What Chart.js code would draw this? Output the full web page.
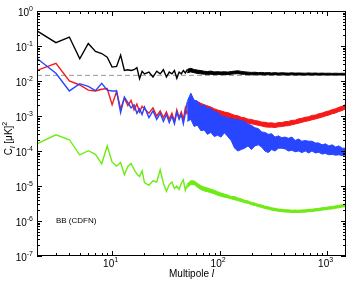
<!DOCTYPE html>
<html>
<head>
<meta charset="utf-8">
<script src="https://cdn.jsdelivr.net/npm/chart.js@4"></script>
<style>
  body { margin: 0; background: #fff; }
</style>
</head>
<body>
<canvas id="cl" width="350" height="284"></canvas>
<script>
// low multipoles, drawn as single noisy lines
let ell = [2,3,4,5,6,7,8,9,10,11,12,13,14,15,16,17,18,19,20,
  22,24,26,28,30,32,34,36,38,40,42,44,46,48,50];

let clBlack = [0.27,0.125,0.18,0.043,0.118,0.07,0.061,0.048,0.025,0.026,0.055,0.02,0.021,0.02,0.021,0.024,0.0116,0.019,0.016,
  0.018,0.013,0.019,0.016,0.021,0.013,0.018,0.016,0.02,0.012,0.018,0.016,0.02,0.017,0.021];
let clRed = [0.02,0.032,0.010,0.0077,0.0055,0.0052,0.0058,0.0061,0.0021,0.005,0.0016,0.0032,0.002,0.0028,0.0015,0.0022,0.0013,0.0019,0.0016,
  0.0012,0.0017,0.001,0.0014,0.0009,0.0013,0.0008,0.0012,0.0007,0.0015,0.0009,0.0013,0.0008,0.0017,0.0011];
let clBlue = [0.044,0.0166,0.0052,0.0084,0.007,0.0053,0.0086,0.0055,0.0052,0.0052,0.00125,0.0035,0.0024,0.0017,0.0021,0.0012,0.0016,0.0011,0.0018,
  0.0009,0.0014,0.0008,0.0012,0.0007,0.0011,0.00065,0.001,0.0006,0.0013,0.0008,0.0011,0.0006,0.0012,0.0025];
let clGreen = [1.6e-4,2.9e-4,2.1e-4,7.7e-5,1.02e-4,8e-5,4.3e-5,1.39e-4,4.8e-5,3.7e-5,4.7e-5,2.1e-5,3.6e-5,4.4e-5,3.0e-5,2.2e-5,1.85e-5,2.7e-5,1.25e-5,
  1.05e-5,1.4e-5,1.3e-5,2.9e-5,1.2e-5,7e-6,1.1e-5,1.3e-5,8.5e-6,1.0e-5,8e-6,1.2e-5,1.5e-5,7.5e-6,1.1e-5];

// high multipoles: the scatter is so dense it reads as a band (upper / lower edge)
let ellBand = [50,54,58,62,67,72,77,83,89,96,103,111,119,128,138,148,159,171,184,198,213,229,246,264,284,
  305,328,353,379,407,437,470,505,543,583,627,674,724,778,836,899,966,1038,1116,1199,1289,1385,1500];

let blackHi = [0.0215,0.023,0.0212,0.0205,0.0198,0.019,0.0186,0.0192,0.0182,0.0185,0.0181,0.0184,0.018,0.0186,0.0192,
  0.0196,0.0188,0.0183,0.0179,0.0176,0.0178,0.0173,0.0176,0.0171,0.0174,0.017,0.0173,0.0169,0.0172,0.017,
  0.0168,0.0171,0.0168,0.017,0.0168,0.0167,0.017,0.0167,0.0169,0.0166,0.0168,0.0166,0.0167,0.0165,0.0167,0.0165,0.0166,0.0165];
let blackLo = [0.0172,0.0182,0.0172,0.0165,0.016,0.0157,0.0154,0.0156,0.0152,0.0155,0.0151,0.0154,0.0152,0.0156,0.016,
  0.0162,0.0157,0.0155,0.0152,0.015,0.0153,0.015,0.0152,0.0149,0.0151,0.0149,0.0151,0.0148,0.015,0.0149,
  0.0148,0.015,0.0148,0.0149,0.0148,0.0148,0.0149,0.0148,0.0149,0.0148,0.0149,0.0148,0.0149,0.0148,0.0149,0.0148,0.0149,0.0149];

let redHi = [0.0023,0.0031,0.0028,0.0026,0.0023,0.0021,0.00196,0.0018,0.00162,0.00148,0.0014,0.0013,0.00125,0.00115,0.00105,
  0.00101,0.00092,0.00089,0.00081,0.0008,0.00074,0.00072,0.00067,0.00066,0.00063,0.00064,0.00061,0.00065,0.00065,0.00069,
  0.0007,0.00075,0.00076,0.00083,0.00086,0.00092,0.00095,0.00104,0.00106,0.00116,0.00121,0.00132,0.0014,0.00152,0.00161,0.00177,0.0019,0.00215];
let redLo = [0.00126,0.0017,0.00155,0.0014,0.00126,0.00118,0.00107,0.001,0.00089,0.00081,0.00076,0.00071,0.00069,0.00068,0.00068,
  0.00071,0.00069,0.00066,0.00062,0.0006,0.00057,0.00054,0.00052,0.00049,0.00048,0.00048,0.00047,0.00049,0.0005,0.00052,
  0.00053,0.00056,0.00059,0.00062,0.00066,0.0007,0.00073,0.00078,0.00082,0.00087,0.00093,0.001,0.00106,0.00116,0.00122,0.00135,0.00143,0.00165];

let blueHi = [0.0026,0.0045,0.0028,0.0027,0.0019,0.0021,0.0016,0.0017,0.0013,0.0013,0.00098,0.001,0.00085,0.00088,0.00078,
  0.0008,0.00072,0.00071,0.00058,0.00054,0.00046,0.00044,0.00035,0.00034,0.0003,0.00031,0.00025,0.00027,0.00024,0.00025,
  0.00023,0.00025,0.0002,0.00022,0.00019,0.0002,0.00019,0.00019,0.00017,0.00017,0.00015,0.00016,0.00014,0.00015,0.00013,0.00014,0.00012,0.00012];
let blueLo = [0.0007,0.0008,0.0005,0.00055,0.00038,0.0004,0.0003,0.00034,0.00026,0.00028,0.00025,0.00033,0.00026,0.0002,0.00012,
  0.0001,0.00011,0.00012,0.00014,0.00011,0.00014,0.00015,0.00013,0.0001,0.00009,0.00011,0.0001,0.00012,0.00012,0.000115,
  0.0001,0.000105,0.000095,0.0001,0.00009,0.0001,0.000088,0.0001,0.000088,0.000092,0.000082,0.000085,0.000078,0.00008,0.000076,0.000078,0.000074,0.000078];

let greenHi = [1.15e-5,1.42e-5,1.4e-5,1.2e-5,1.02e-5,9.3e-6,8.8e-6,8.1e-6,7.6e-6,6.9e-6,6.3e-6,5.9e-6,5.5e-6,5.0e-6,5e-6,
  4.55e-6,4.3e-6,3.9e-6,3.75e-6,3.4e-6,3.25e-6,3e-6,2.86e-6,2.65e-6,2.54e-6,2.38e-6,2.3e-6,2.2e-6,2.16e-6,2.1e-6,
  2.08e-6,2.04e-6,2.05e-6,2.03e-6,2.07e-6,2.08e-6,2.15e-6,2.17e-6,2.25e-6,2.3e-6,2.4e-6,2.44e-6,2.54e-6,2.59e-6,2.71e-6,2.79e-6,2.92e-6,3.0e-6];
let greenLo = [8.8e-6,1.1e-5,1.1e-5,9.2e-6,7.9e-6,7.2e-6,6.9e-6,6.4e-6,6e-6,5.4e-6,5.1e-6,4.75e-6,4.6e-6,4.3e-6,4.05e-6,
  3.8e-6,3.6e-6,3.3e-6,3.2e-6,2.9e-6,2.78e-6,2.57e-6,2.45e-6,2.27e-6,2.17e-6,2.04e-6,1.97e-6,1.89e-6,1.85e-6,1.8e-6,
  1.79e-6,1.75e-6,1.76e-6,1.74e-6,1.78e-6,1.79e-6,1.84e-6,1.86e-6,1.93e-6,1.97e-6,2.05e-6,2.09e-6,2.18e-6,2.22e-6,2.32e-6,2.39e-6,2.5e-6,2.57e-6];

let noiseLevel = 0.0145;
let xTicks = [10, 100, 1000];
let yTicks = [1e-7, 1e-6, 1e-5, 1e-4, 1e-3, 1e-2, 1e-1, 1];
let lMin = 2, lMax = 1500;

function pts(xs, vals) {
  return xs.map((l, i) => ({ x: l, y: vals[i] }));
}

// one series = a line for low l, plus a filled band for high l
function series(color, line, hi, lo, order) {
  let base = { borderColor: color, backgroundColor: color, order: order };
  return [
    Object.assign({ data: pts(ell, line), borderWidth: 1.4, fill: false }, base),
    Object.assign({ data: pts(ellBand, hi), borderWidth: 1, fill: '+1' }, base),
    Object.assign({ data: pts(ellBand, lo), borderWidth: 1, fill: false }, base)
  ];
}

const FONT = '"Liberation Sans", Arial, sans-serif';

// "10" with a raised exponent
function powLabel(ctx, xr, yBase, exp, center) {
  ctx.font = '10px ' + FONT;
  let bw = ctx.measureText('10').width;
  ctx.font = '7px ' + FONT;
  let ew = ctx.measureText(exp).width;
  let x0 = center ? xr - (bw + ew) / 2 : xr - bw - ew;
  ctx.font = '10px ' + FONT;
  ctx.fillText('10', x0, yBase);
  ctx.font = '7px ' + FONT;
  ctx.fillText(exp, x0 + bw, yBase - 5);
}

const axisDecor = {
  id: 'axisDecor',
  afterDatasetsDraw(chart) {
    let ctx = chart.ctx;
    let a = chart.chartArea;
    let xs = chart.scales.x, ys = chart.scales.y;
    ctx.save();
    ctx.strokeStyle = '#000';
    ctx.fillStyle = '#000';
    ctx.lineWidth = 1;
    ctx.strokeRect(a.left + 0.5, a.top + 0.5, a.right - a.left - 1, a.bottom - a.top - 1);

    ctx.beginPath();
    for (let d = 1; d <= 1000; d *= 10) {
      for (let m = 1; m <= 9; m++) {
        let v = m * d;
        if (v < lMin || v > lMax) continue;
        let px = Math.round(xs.getPixelForValue(v)) + 0.5;
        let len = m === 1 ? 5 : 3;
        ctx.moveTo(px, a.bottom); ctx.lineTo(px, a.bottom - len);
        ctx.moveTo(px, a.top); ctx.lineTo(px, a.top + len);
      }
    }
    for (let k = -7; k <= 0; k++) {
      for (let m = 1; m <= 9; m++) {
        let v = m * Math.pow(10, k);
        if (v > 1) continue;
        let py = Math.round(ys.getPixelForValue(v)) + 0.5;
        let len = m === 1 ? 5 : 3;
        ctx.moveTo(a.left, py); ctx.lineTo(a.left + len, py);
        ctx.moveTo(a.right, py); ctx.lineTo(a.right - len, py);
      }
    }
    ctx.stroke();

    ctx.textBaseline = 'alphabetic';
    ctx.textAlign = 'left';
    yTicks.forEach(v => {
      powLabel(ctx, a.left - 4, ys.getPixelForValue(v) + 4.5, String(Math.round(Math.log10(v))), false);
    });
    xTicks.forEach(v => {
      powLabel(ctx, xs.getPixelForValue(v) - 1.5, a.bottom + 11, String(Math.round(Math.log10(v))), true);
    });

    // x title
    ctx.font = '10px ' + FONT;
    let t1 = 'Multipole ';
    let w1 = ctx.measureText(t1).width;
    ctx.font = 'italic 10px ' + FONT;
    let w2 = ctx.measureText('l').width;
    let x0 = (a.left + a.right) / 2 - (w1 + w2) / 2;
    ctx.font = '10px ' + FONT;
    ctx.fillText(t1, x0, a.bottom + 21);
    ctx.font = 'italic 10px ' + FONT;
    ctx.fillText('l', x0 + w1, a.bottom + 21);

    // y title
    ctx.save();
    ctx.translate(12, (a.top + a.bottom) / 2 + 5);
    ctx.rotate(-Math.PI / 2);
    let parts = [['C', '10px ', 0], ['l', 'italic 7px ', 2.5], [' [\u03bcK]', '10px ', 0], ['2', '7px ', -5]];
    let tw = 0;
    parts.forEach(p => { ctx.font = p[1] + FONT; tw += ctx.measureText(p[0]).width; });
    let cx = -tw / 2;
    parts.forEach(p => {
      ctx.font = p[1] + FONT;
      ctx.fillText(p[0], cx, p[2]);
      cx += ctx.measureText(p[0]).width;
    });
    ctx.restore();

    ctx.font = '8px ' + FONT;
    ctx.textBaseline = 'middle';
    ctx.fillText('BB (CDFN)', xs.getPixelForValue(3), ys.getPixelForValue(1e-6));
    ctx.restore();
  }
};

let kanvas = document.getElementById('cl');
let grafik = new Chart(kanvas, {
  type: 'line',
  data: {
    datasets: [].concat(
      series('rgb(110,235,20)', clGreen, greenHi, greenLo, 1),
      series('rgb(40,70,255)', clBlue, blueHi, blueLo, 2),
      series('rgb(245,25,25)', clRed, redHi, redLo, 3),
      series('#000', clBlack, blackHi, blackLo, 4),
      [{ data: [{ x: lMin, y: noiseLevel }, { x: lMax, y: noiseLevel }], borderColor: '#999', borderWidth: 1, borderDash: [5, 3], order: 5 }]
    )
  },
  options: {
    responsive: false,
    animation: false,
    layout: { padding: { left: 37, right: 4, top: 11, bottom: 28 } },
    elements: { point: { radius: 0 }, line: { tension: 0 } },
    plugins: { legend: { display: false }, tooltip: { enabled: false } },
    scales: {
      x: { type: 'logarithmic', min: lMin, max: lMax, display: false },
      y: { type: 'logarithmic', min: 1e-7, max: 1, display: false }
    }
  },
  plugins: [axisDecor]
});
</script>
</body>
</html>
